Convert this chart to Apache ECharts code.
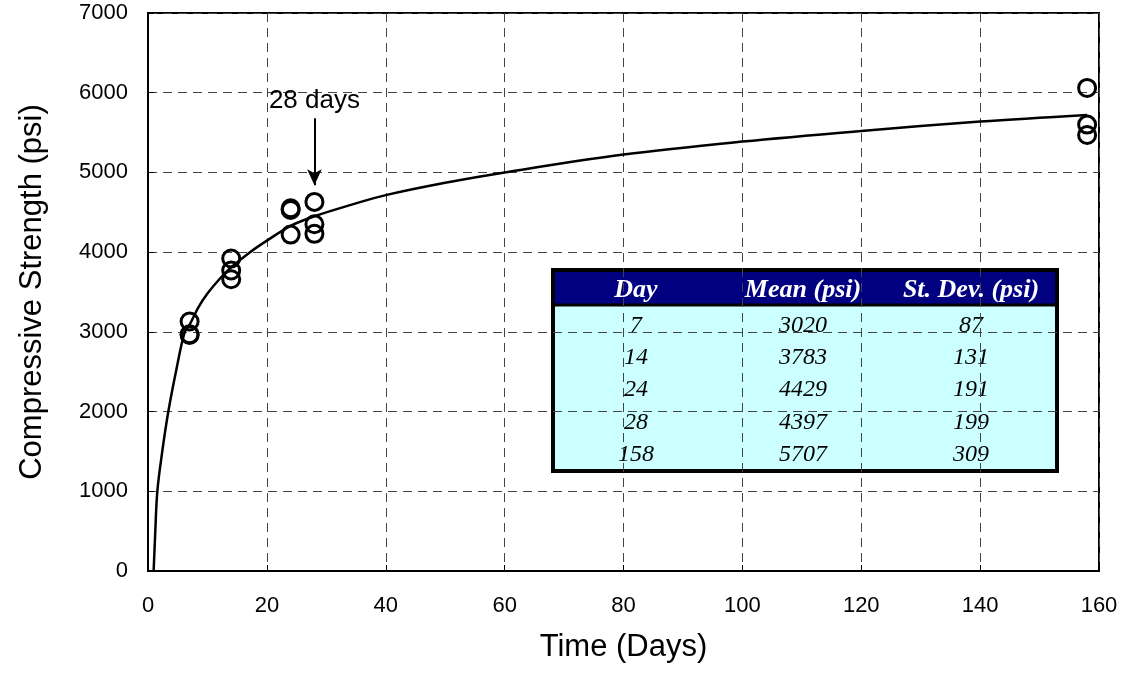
<!DOCTYPE html>
<html>
<head>
<meta charset="utf-8">
<script src="https://cdn.jsdelivr.net/npm/echarts@6/dist/echarts.min.js"></script>
<style>
  html, body { margin: 0; padding: 0; background: #fff; }
  #chart { width: 1130px; height: 673px; }
</style>
</head>
<body>
<div id="chart"></div>
<script>
// measured cylinder strengths (psi) by age (days)
const testDays     = [7, 7, 7, 14, 14, 14, 24, 24, 24, 28, 28, 28, 158, 158, 158];
const testStrength = [3130, 2970, 2960, 3920, 3770, 3660, 4550, 4530, 4220, 4630, 4350, 4230, 6060, 5600, 5470];

// fitted strength-gain curve
const fitDays     = [0.95, 1.2, 1.57, 2.4, 3.42, 4.7, 6.18, 7, 8.5, 10, 12, 14, 17, 20, 24, 28, 34, 40, 50, 60, 80, 100, 120, 140, 158];
const fitStrength = [0, 450, 1000, 1500, 2000, 2500, 3000, 3090, 3310, 3480, 3660, 3810, 3990, 4144, 4330, 4450, 4590, 4715, 4870, 5000, 5224, 5387, 5520, 5638, 5721];

// summary table
const tableHead  = ['Day', 'Mean (psi)', 'St. Dev. (psi)'];
const tableDays  = [7, 14, 24, 28, 158];
const tableMeans = [3020, 3783, 4429, 4397, 5707];
const tableSD    = [87, 131, 191, 199, 309];

const SANS  = '"Liberation Sans", Arial, sans-serif';
const SERIF = '"Liberation Serif", "Times New Roman", serif';

const chart = echarts.init(document.getElementById('chart'), null, { renderer: 'canvas' });

// — table built as graphic elements —
function buildTable() {
  const left = 553, top = 270, w = 504, h = 201, headH = 35;
  const colX = [83, 250, 418];
  const rowY = [56, 88, 120, 153, 185];
  const els = [
    { type: 'rect', shape: { x: left, y: top, width: w, height: h },
      style: { fill: '#ccffff', stroke: null } },
    { type: 'rect', shape: { x: left, y: top, width: w, height: headH },
      style: { fill: '#000080', stroke: null } },
    { type: 'line', shape: { x1: left, y1: top + headH, x2: left + w, y2: top + headH },
      style: { stroke: '#000', lineWidth: 3 } },
    { type: 'rect', shape: { x: left, y: top, width: w, height: h },
      style: { fill: null, stroke: '#000', lineWidth: 4 } }
  ];
  tableHead.forEach((t, i) => {
    els.push({ type: 'text', x: left + colX[i], y: top + 20,
      style: { text: t, fill: '#fff', font: `italic bold 26px ${SERIF}`,
               align: 'center', verticalAlign: 'middle' } });
  });
  const cols = [tableDays, tableMeans, tableSD];
  cols.forEach((col, ci) => {
    col.forEach((v, ri) => {
      els.push({ type: 'text', x: left + colX[ci], y: top + rowY[ri],
        style: { text: String(v), fill: '#000', font: `italic 24px ${SERIF}`,
                 align: 'center', verticalAlign: 'middle' } });
    });
  });
  return els;
}

const gridLine = { show: true, lineStyle: { color: '#444', width: 1, type: [9, 6] } };

chart.setOption({
  animation: false,
  backgroundColor: '#fff',
  grid: { left: 148, top: 13, right: 31, bottom: 102, show: true,
          borderColor: '#000', borderWidth: 2, backgroundColor: 'transparent' },
  xAxis: {
    type: 'value', min: 0, max: 160, interval: 20,
    name: 'Time (Days)', nameLocation: 'middle', nameGap: 61,
    nameTextStyle: { fontSize: 31, color: '#000', fontFamily: SANS },
    axisLine: { show: true, lineStyle: { color: '#000', width: 2 } },
    axisTick: { show: true, inside: true, length: 6, lineStyle: { color: '#000' } },
    axisLabel: { fontSize: 22, color: '#000', fontFamily: SANS, margin: 24,
                 formatter: v => String(v) },
    splitLine: gridLine
  },
  yAxis: {
    type: 'value', min: 0, max: 7000, interval: 1000,
    name: 'Compressive Strength (psi)', nameLocation: 'middle', nameGap: 100,
    nameTextStyle: { fontSize: 31, color: '#000', fontFamily: SANS },
    axisLine: { show: true, lineStyle: { color: '#000', width: 2 } },
    axisTick: { show: true, inside: true, length: 6, lineStyle: { color: '#000' } },
    axisLabel: { fontSize: 22, color: '#000', fontFamily: SANS, margin: 20,
                 formatter: v => String(v) },
    splitLine: gridLine
  },
  series: [
    {
      name: 'fit', type: 'line', z: 3,
      data: fitDays.map((d, i) => [d, fitStrength[i]]),
      showSymbol: false, smooth: 0.35,
      lineStyle: { color: '#000', width: 2.5 },
      markLine: {
        silent: true, symbol: ['none', 'arrow'], symbolSize: [11, 16],
        lineStyle: { color: '#000', width: 2, type: 'solid' },
        label: { show: true, position: 'start', formatter: '28 days',
                 fontSize: 26, color: '#000', fontFamily: SANS, distance: 4 },
        data: [[{ coord: [28, 5680] }, { coord: [28, 4840] }]]
      }
    },
    {
      name: 'tests', type: 'scatter', z: 4,
      data: testDays.map((d, i) => [d, testStrength[i]]),
      symbol: 'circle', symbolSize: 17,
      itemStyle: { color: 'rgba(0,0,0,0)', borderColor: '#000', borderWidth: 3, opacity: 1 }
    }
  ],
  graphic: buildTable()
});
</script>
</body>
</html>
